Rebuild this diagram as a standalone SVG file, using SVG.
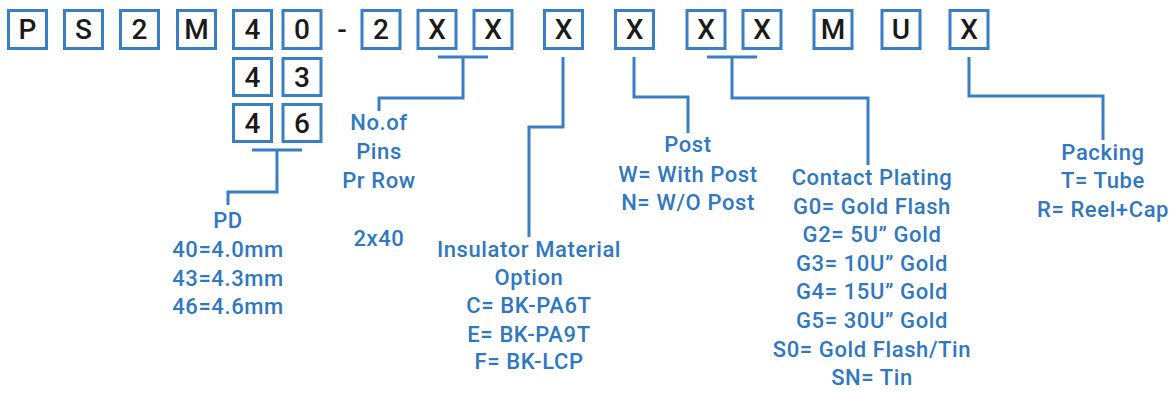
<svg xmlns="http://www.w3.org/2000/svg" width="1175" height="394" viewBox="0 0 1175 394">
<style>
.box{fill:#fff;stroke:#3a7fc4;stroke-width:3}
.ch{font-family:Roboto,"Liberation Sans",Arial,sans-serif;font-weight:500;font-size:28px;fill:#1a1a1a;text-anchor:middle}
.lbl{font-family:Roboto,"Liberation Sans",Arial,sans-serif;font-weight:500;font-size:22px;fill:#3078c2;text-anchor:middle;letter-spacing:0.6px}
.con{fill:none;stroke:#3a7fc4;stroke-width:3}
</style>
<rect width="1175" height="394" fill="#fff"/>
<g id="code">
<g id="c-P"><rect class="box" x="8.5" y="10.5" width="38" height="38"/><text class="ch" x="27.5" y="39">P</text></g>
<g id="c-S"><rect class="box" x="64.5" y="10.5" width="38" height="38"/><text class="ch" x="83.5" y="39">S</text></g>
<g id="c-2a"><rect class="box" x="120.5" y="10.5" width="38" height="38"/><text class="ch" x="139.5" y="39">2</text></g>
<g id="c-M"><rect class="box" x="177.5" y="10.5" width="38" height="38"/><text class="ch" x="196.5" y="39">M</text></g>
<g id="c-4"><rect class="box" x="233.5" y="10.5" width="38" height="38"/><text class="ch" x="252.5" y="39">4</text></g>
<g id="c-0"><rect class="box" x="283" y="10.5" width="38" height="38"/><text class="ch" x="302" y="39">0</text></g>
<g id="c-dash"><text class="ch" x="342" y="39">-</text></g>
<g id="c-2b"><rect class="box" x="362" y="10.5" width="38" height="38"/><text class="ch" x="381" y="39">2</text></g>
<g id="c-X1"><rect class="box" x="418" y="10.5" width="38" height="38"/><text class="ch" x="437" y="39">X</text></g>
<g id="c-X2"><rect class="box" x="474" y="10.5" width="38" height="38"/><text class="ch" x="493" y="39">X</text></g>
<g id="c-X3"><rect class="box" x="544.5" y="10.5" width="38" height="38"/><text class="ch" x="563.5" y="39">X</text></g>
<g id="c-X4"><rect class="box" x="615.5" y="10.5" width="38" height="38"/><text class="ch" x="634.5" y="39">X</text></g>
<g id="c-X5"><rect class="box" x="687" y="10.5" width="38" height="38"/><text class="ch" x="706" y="39">X</text></g>
<g id="c-X6"><rect class="box" x="743" y="10.5" width="38" height="38"/><text class="ch" x="762" y="39">X</text></g>
<g id="c-M2"><rect class="box" x="814" y="10.5" width="38" height="38"/><text class="ch" x="833" y="39">M</text></g>
<g id="c-U"><rect class="box" x="882" y="10.5" width="38" height="38"/><text class="ch" x="901" y="39">U</text></g>
<g id="c-X7"><rect class="box" x="950" y="10.5" width="38" height="38"/><text class="ch" x="969" y="39">X</text></g>
<g id="c-43a"><rect class="box" x="233.5" y="58.5" width="38" height="37"/><text class="ch" x="252.5" y="87">4</text></g>
<g id="c-43b"><rect class="box" x="283" y="58.5" width="38" height="37"/><text class="ch" x="302" y="87">3</text></g>
<g id="c-46a"><rect class="box" x="233.5" y="104.5" width="38" height="37"/><text class="ch" x="252.5" y="133">4</text></g>
<g id="c-46b"><rect class="box" x="283" y="104.5" width="38" height="37"/><text class="ch" x="302" y="133">6</text></g>
</g>
<g id="connectors">
<path class="con" d="M252,150 H302 M277,150 V192 H228 V205"/>
<path class="con" d="M438,57 H488 M463,57 V98 H379 V111"/>
<path class="con" d="M563,57 V127 H529 V237"/>
<path class="con" d="M634,57 V97 H688 V133"/>
<path class="con" d="M707,57 H757 M732,57 V98 H868 V165"/>
<path class="con" d="M969,57 V96 H1103 V140"/>
</g>
<g id="pd">
<text class="lbl" x="228" y="228">PD</text>
<text class="lbl" x="228" y="257">40=4.0mm</text>
<text class="lbl" x="228" y="286">43=4.3mm</text>
<text class="lbl" x="228" y="314">46=4.6mm</text>
</g>
<g id="pins">
<text class="lbl" x="379" y="130">No.of</text>
<text class="lbl" x="379" y="159">Pins</text>
<text class="lbl" x="379" y="188">Pr Row</text>
<text class="lbl" x="379" y="246">2x40</text>
</g>
<g id="insulator">
<text class="lbl" x="529" y="257">Insulator Material</text>
<text class="lbl" x="529" y="285">Option</text>
<text class="lbl" x="529" y="313">C= BK-PA6T</text>
<text class="lbl" x="529" y="342">E= BK-PA9T</text>
<text class="lbl" x="529" y="369">F= BK-LCP</text>
</g>
<g id="post">
<text class="lbl" x="688" y="152">Post</text>
<text class="lbl" x="688" y="182">W= With Post</text>
<text class="lbl" x="688" y="210">N= W/O Post</text>
</g>
<g id="plating">
<text class="lbl" x="872" y="185">Contact Plating</text>
<text class="lbl" x="872" y="213.6">G0= Gold Flash</text>
<text class="lbl" x="872" y="242.2">G2= 5U” Gold</text>
<text class="lbl" x="872" y="270.8">G3= 10U” Gold</text>
<text class="lbl" x="872" y="299.4">G4= 15U” Gold</text>
<text class="lbl" x="872" y="328">G5= 30U” Gold</text>
<text class="lbl" x="872" y="356.6">S0= Gold Flash/Tin</text>
<text class="lbl" x="872" y="385.2">SN= Tin</text>
</g>
<g id="packing">
<text class="lbl" x="1103" y="160">Packing</text>
<text class="lbl" x="1103" y="188">T= Tube</text>
<text class="lbl" x="1103" y="217">R= Reel+Cap</text>
</g>
</svg>
